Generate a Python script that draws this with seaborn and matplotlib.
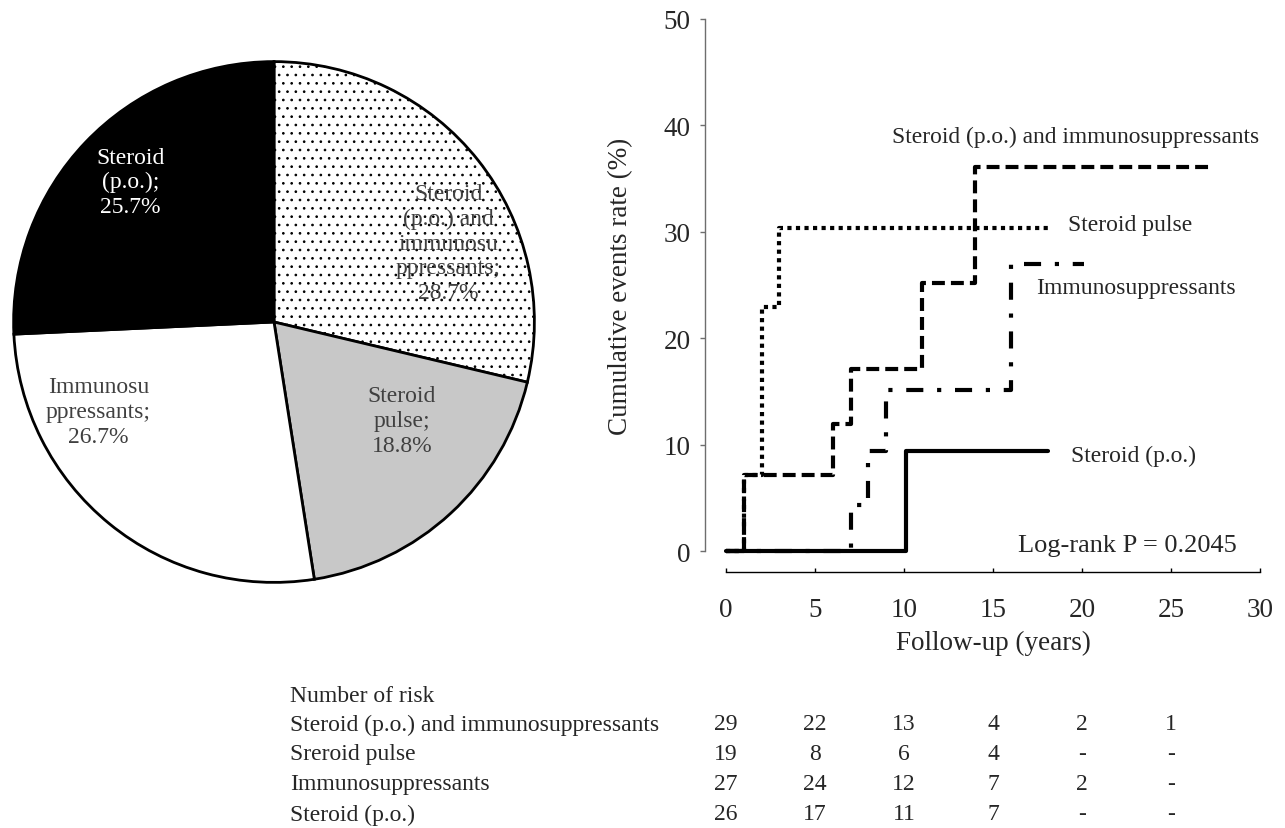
import numpy as np
import pandas as pd
import matplotlib
matplotlib.use("Agg")
import matplotlib.pyplot as plt
import matplotlib.transforms as mtransforms
import seaborn as sns

# ---------------- data ----------------
pie_labels = ["Steroid\n(p.o.) and\nimmunosu\nppressants;", "Steroid\npulse;",
              "Immunosu\nppressants;", "Steroid\n(p.o.);"]
pie_counts = [29, 19, 27, 26]

combo_x = [0, 1, 6, 7, 11, 14, 27.2]
combo_y = [0, 7.1, 11.9, 17.1, 25.2, 36.1, 36.1]
pulse_x = [0, 1, 2, 3, 18.1]
pulse_y = [0, 7.1, 22.9, 30.4, 30.4]
immuno_x = [0, 7, 8, 9, 16, 20.1]
immuno_y = [0, 4.3, 9.4, 15.1, 27.0, 27.0]
oral_x = [0, 10.1, 18.1]
oral_y = [0, 9.4, 9.4]

x_ticks = [0, 5, 10, 15, 20, 25, 30]
y_ticks = [0, 10, 20, 30, 40, 50]

risk_times = [0, 5, 10, 15, 20, 25]
risk_rows = ["Steroid (p.o.) and immunosuppressants", "Sreroid pulse",
             "Immunosuppressants", "Steroid (p.o.)"]
risk_combo = ["29", "22", "13", "4", "2", "1"]
risk_pulse = ["19", "8", "6", "4", "-", "-"]
risk_immuno = ["27", "24", "12", "7", "2", "-"]
risk_oral = ["26", "17", "11", "7", "-", "-"]

# ---------------- style ----------------
sns.set_theme(style="white")
plt.rcParams["font.family"] = ["Liberation Serif", "DejaVu Serif"]
plt.rcParams["hatch.color"] = "black"
plt.rcParams["hatch.linewidth"] = 0.7

W, H = 1285, 829
fig = plt.figure(figsize=(W / 100, H / 100), dpi=100)

def px_axes(l, t, r, b):
    return fig.add_axes([l / W, 1 - b / H, (r - l) / W, (b - t) / H])

# ---------------- pie ----------------
axp = px_axes(11, 60, 537, 586)
wedges, _ = axp.pie(pie_counts, startangle=90, counterclock=False,
                    radius=1.0,
                    colors=["white", "#c8c8c8", "white", "black"],
                    wedgeprops=dict(edgecolor="black", linewidth=2.0))
wedges[0].set_hatch("..")
axp.set_xlim(-1.01, 1.01)
axp.set_ylim(-1.01, 1.01)
axp.set_aspect("equal")
axp.axis("off")

total = sum(pie_counts)
pct = [f"{100 * c / total:.1f}%" for c in pie_counts]
# label placement (radius fraction, angle in degrees)
label_pos = [(0.735, 24.4), (0.62, -37.6), (0.757, 207.0), (0.77, 135.6)]
label_col = ["#404040", "#404040", "#404040", "white"]
for lab, p, (r, a), c in zip(pie_labels, pct, label_pos, label_col):
    axp.text(r * np.cos(np.radians(a)), r * np.sin(np.radians(a)), lab + "\n" + p,
             ha="center", va="center", fontsize=17, color=c, linespacing=1.22)

# ---------------- KM curves ----------------
ax = px_axes(726, 20, 1260, 552)
lw = 3.0
curves = [
    (combo_x, combo_y, (0, (3.1, 1.45))),
    (pulse_x, pulse_y, (0, (1.0, 1.05))),
    (immuno_x, immuno_y, (0, (4.1, 3.3, 1.0, 3.3))),
    (oral_x, oral_y, "solid"),
]
for xs, ys, ls in curves:
    df = pd.DataFrame({"t": xs, "r": ys})
    sns.lineplot(data=df, x="t", y="r", ax=ax, color="black", linewidth=lw,
                 linestyle=ls, drawstyle="steps-post", estimator=None,
                 sort=False, clip_on=False)

ax.set_xlim(0, 30)
ax.set_ylim(0, 50)
ax.set_xticks(x_ticks)
ax.set_yticks(y_ticks)
ax.set_xlabel("Follow-up (years)", fontsize=19.5, labelpad=6)
ax.set_ylabel("Cumulative events rate (%)", fontsize=19.5, labelpad=22)
for s in ["top", "right"]:
    ax.spines[s].set_visible(False)
ax.spines["left"].set_position(("outward", 15))
ax.spines["bottom"].set_position(("outward", 15))
ax.spines["left"].set_color("#6e6e6e")
ax.spines["bottom"].set_color("black")
ax.spines["left"].set_linewidth(1.0)
ax.spines["bottom"].set_linewidth(1.0)
ax.tick_params(axis="x", direction="in", length=3, width=1, color="black",
               labelsize=19.5, pad=18, bottom=True)
ax.tick_params(axis="y", direction="out", length=3.5, width=1, color="#6e6e6e",
               labelsize=19.5, pad=7, left=True)
ax.set_facecolor("none")

ax.text(9.3, 39.0, "Steroid (p.o.) and immunosuppressants", fontsize=16.9,
        ha="left", va="center")
ax.text(19.2, 30.7, "Steroid pulse", fontsize=17, ha="left", va="center")
ax.text(17.4, 24.8, "Immunosuppressants", fontsize=17, ha="left", va="center")
ax.text(19.4, 9.0, "Steroid (p.o.)", fontsize=17, ha="left", va="center")
ax.text(16.4, 0.6, "Log-rank P = 0.2045", fontsize=19, ha="left", va="center")

# ---------------- risk table ----------------
tr = mtransforms.blended_transform_factory(ax.transData, fig.transFigure)
fig.text(290 / W, 1 - 697 / H, "Number of risk", fontsize=17, ha="left", va="center")
row_y = [725, 755, 785, 815]
for name, vals, yy in zip(risk_rows, [risk_combo, risk_pulse, risk_immuno, risk_oral], row_y):
    fig.text(290 / W, 1 - yy / H, name, fontsize=17, ha="left", va="center")
    for t, v in zip(risk_times, vals):
        ax.text(t, 1 - yy / H, v, transform=tr, fontsize=17, ha="center",
                va="center", clip_on=False)

fig.savefig("out.png", dpi=100, facecolor="white")
